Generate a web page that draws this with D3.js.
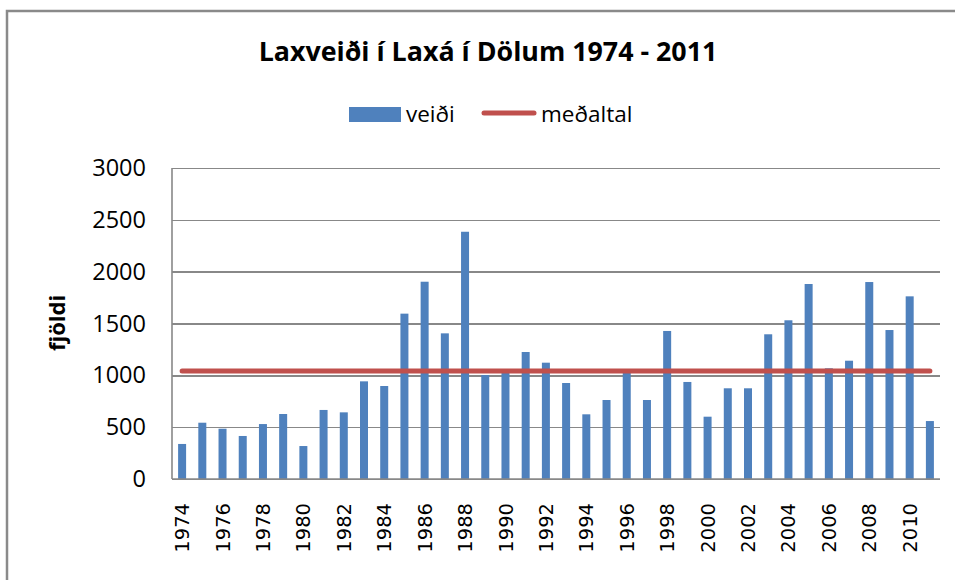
<!DOCTYPE html>
<html lang="is">
<head>
    <meta charset="utf-8">
    <title>Laxveiði í Laxá í Dölum 1974 - 2011</title>
    <script type="text/javascript" src="https://cdnjs.cloudflare.com/ajax/libs/d3/7.8.5/d3.min.js"></script>

<style>
    body {
        margin: 0;
        background: #ffffff;
    }

    .grid line {
        stroke: #888888;
        stroke-width: 1.6;
        shape-rendering: crispEdges;
    }

    .grid path {
        display: none;
    }

    .axis text {
        fill: #000000;
    }

    .bar {
        fill: #4F81BD;
    }

    .meanline {
        fill: none;
        stroke: #C0504D;
        stroke-width: 5;
        stroke-linecap: round;
    }
</style>
</head>

<body>
<div id="chart"></div>

<script type="text/javascript">

// veiði per year
const YEARS = [1974, 1975, 1976, 1977, 1978, 1979, 1980, 1981, 1982, 1983,
               1984, 1985, 1986, 1987, 1988, 1989, 1990, 1991, 1992, 1993,
               1994, 1995, 1996, 1997, 1998, 1999, 2000, 2001, 2002, 2003,
               2004, 2005, 2006, 2007, 2008, 2009, 2010, 2011];
const VEIDI = [338, 543, 485, 415, 530, 627, 318, 666, 643, 942,
               897, 1595, 1903, 1405, 2385, 1003, 1025, 1225, 1122, 926,
               624, 762, 1030, 762, 1428, 936, 601, 875, 875, 1396,
               1531, 1881, 1068, 1141, 1900, 1437, 1762, 559];
// meðaltal (same value every year)
const MEDALTAL = 1041;
const Y_TICKS = [0, 500, 1000, 1500, 2000, 2500, 3000];
const X_LABELS = YEARS.filter(function(y) { return y % 2 == 0; });

const WIDTH = 955,
      HEIGHT = 580,
      PLOT = {left: 172, right: 940, top: 168, bottom: 479};

let svg = d3.select("#chart")
    .append("svg")
    .attr("width", WIDTH)
    .attr("height", HEIGHT);

// outer chart frame (runs off the right and bottom edge)
svg.append("rect")
    .attr("x", 7)
    .attr("y", 11)
    .attr("width", 1000)
    .attr("height", 700)
    .attr("fill", "none")
    .attr("stroke", "#8a8a8a")
    .attr("stroke-width", 2.5);

let xScale = d3.scaleBand()
    .domain(YEARS)
    .range([PLOT.left, PLOT.right])
    .padding(0);

let yScale = d3.scaleLinear()
    .domain([0, 3000])
    .range([PLOT.bottom, PLOT.top]);

// horizontal gridlines
svg.append("g")
    .attr("class", "grid")
    .attr("transform", "translate(" + PLOT.left + ",0)")
    .call(d3.axisLeft(yScale)
        .tickValues(Y_TICKS)
        .tickSize(-(PLOT.right - PLOT.left))
        .tickFormat(""));

// y axis line
svg.append("line")
    .attr("x1", PLOT.left).attr("x2", PLOT.left)
    .attr("y1", PLOT.top).attr("y2", PLOT.bottom)
    .attr("stroke", "#888888")
    .attr("stroke-width", 1.6);

// y tick labels
let yAxis = svg.append("g")
    .attr("class", "axis")
    .attr("transform", "translate(" + 146 + ",0)")
    .call(d3.axisLeft(yScale)
        .tickValues(Y_TICKS)
        .tickFormat(d3.format("d"))
        .tickSize(0)
        .tickPadding(0));
yAxis.select(".domain").remove();
yAxis.attr("font-family", "'Open Sans', sans-serif")
    .attr("font-size", 23.5);

// x tick labels, rotated
let xAxis = svg.append("g")
    .attr("class", "axis")
    .attr("transform", "translate(0," + PLOT.bottom + ")")
    .call(d3.axisBottom(xScale).tickValues(X_LABELS).tickSize(0).tickPadding(0));
xAxis.select(".domain").remove();
xAxis.attr("font-family", "'DejaVu Sans', sans-serif")
    .attr("font-size", 19.5);
xAxis.selectAll("text")
    .attr("text-anchor", "end")
    .attr("transform", "translate(0,24) rotate(-90)")
    .attr("x", 0)
    .attr("y", 0)
    .attr("dy", "0.36em");

// bars
let barW = 8;
svg.selectAll(".bar")
    .data(YEARS)
    .enter()
    .append("rect")
    .attr("class", "bar")
    .attr("x", function(d) { return xScale(d) + xScale.bandwidth() / 2 - barW / 2; })
    .attr("y", function(d, i) { return yScale(VEIDI[i]); })
    .attr("width", barW)
    .attr("height", function(d, i) { return yScale(0) - yScale(VEIDI[i]); });

// x axis line
svg.append("line")
    .attr("x1", PLOT.left).attr("x2", PLOT.right)
    .attr("y1", PLOT.bottom).attr("y2", PLOT.bottom)
    .attr("stroke", "#888888")
    .attr("stroke-width", 1.6);

// mean line
let lineGen = d3.line()
    .x(function(d) { return xScale(d) + xScale.bandwidth() / 2; })
    .y(function(d) { return yScale(MEDALTAL); });

svg.append("path")
    .datum(YEARS)
    .attr("class", "meanline")
    .attr("d", lineGen);

// title
svg.append("text")
    .attr("x", 488)
    .attr("y", 61)
    .attr("text-anchor", "middle")
    .style("font-family", "'Open Sans', sans-serif")
    .style("font-weight", "bold")
    .style("font-size", "26.8px")
    .text("Laxveiði í Laxá í Dölum 1974 - 2011");

// y axis title
svg.append("text")
    .attr("transform", "translate(" + 65 + "," + 323 + ") rotate(-90)")
    .attr("text-anchor", "middle")
    .style("font-family", "'Open Sans', sans-serif")
    .style("font-weight", "bold")
    .style("font-size", "22px")
    .text("fjöldi");

// legend
let legend = svg.append("g")
    .attr("class", "legend");

legend.append("rect")
    .attr("x", 349)
    .attr("y", 107)
    .attr("width", 52)
    .attr("height", 15)
    .style("fill", "#4F81BD");

legend.append("text")
    .attr("x", 406)
    .attr("y", 122)
    .style("font-family", "'Open Sans', sans-serif")
    .style("font-size", "22.5px")
    .text("veiði");

legend.append("line")
    .attr("x1", 484).attr("x2", 534)
    .attr("y1", 113).attr("y2", 113)
    .attr("class", "meanline");

legend.append("text")
    .attr("x", 541)
    .attr("y", 122)
    .style("font-family", "'Open Sans', sans-serif")
    .style("font-size", "22.5px")
    .text("meðaltal");

</script>
</body>
</html>
